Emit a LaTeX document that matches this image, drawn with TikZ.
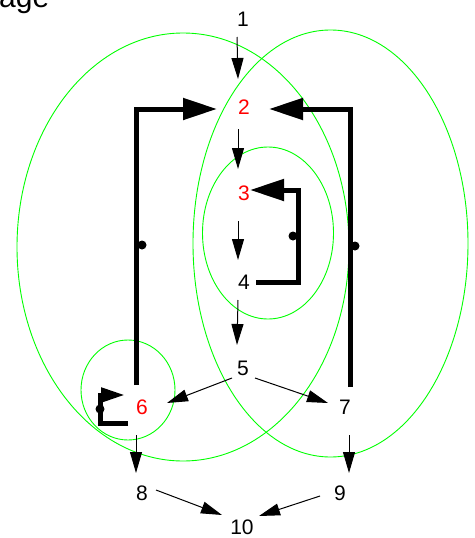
\documentclass[tikz,border=0pt]{standalone}
\usepackage{fontspec}
\setmainfont{Liberation Sans}
\usetikzlibrary{arrows.meta}
\begin{document}
\begin{tikzpicture}[x=1pt,y=-1pt,
  lbl/.style={inner sep=0pt, font=\fontsize{21}{21}\selectfont},
  redlbl/.style={lbl, text=red},
  cluster/.style={draw=green, line width=0.9pt},
  thinedge/.style={draw=black, line width=1pt, -{Triangle[length=21pt,width=12pt]}},
  backedge/.style={draw=black, line width=5pt, line join=miter, -{Triangle[length=34pt,width=21pt]}},
  loopedge/.style={draw=black, line width=5pt, line join=miter, -{Triangle[length=24pt,width=14pt]}},
  dotmark/.style={fill=black},
]
\useasboundingbox (0,0) rectangle (474,538);
% clusters
\draw[cluster] (183,247) ellipse [x radius=166pt, y radius=214pt];
\draw[cluster] (330.5,243.5) ellipse [x radius=137.5pt, y radius=213.5pt];
\draw[cluster] (268,233) ellipse [x radius=65.5pt, y radius=86pt];
\draw[cluster] (128,390) ellipse [x radius=47pt, y radius=50pt];
% title fragment
\node[anchor=base west, inner sep=0pt, font=\fontsize{30}{30}\selectfont] (title) at (-1,7) {age};
% nodes
\node[lbl] (n1) at (243,19) {1};
\node[redlbl] (n2) at (244,107) {2};
\node[redlbl] (n3) at (244,193) {3};
\node[lbl] (n4) at (244,282) {4};
\node[lbl] (n5) at (243,368) {5};
\node[redlbl] (n6) at (142,407) {6};
\node[lbl] (n7) at (345,407) {7};
\node[lbl] (n8) at (142,493) {8};
\node[lbl] (n9) at (340,493) {9};
\node[lbl] (n10) at (242,527) {10};
% thin edges
\draw[thinedge] ([shift={(-6,18)}]n1.center) -- ([shift={(-6,-28)}]n2.center);
\draw[thinedge] ([shift={(-6,22)}]n2.center) -- ([shift={(-6,-24)}]n3.center);
\draw[thinedge] ([shift={(-6,28)}]n3.center) -- ([shift={(-6,-22)}]n4.center);
\draw[thinedge] ([shift={(-6,18)}]n4.center) -- ([shift={(-6,-23)}]n5.center);
\draw[thinedge] ([shift={(-11,10)}]n5.center) -- ([shift={(25,-4)}]n6.center);
\draw[thinedge] ([shift={(12,10)}]n5.center) -- ([shift={(-17,-4)}]n7.center);
\draw[thinedge] ([shift={(-6,28)}]n6.center) -- ([shift={(-6,-20)}]n8.center);
\draw[thinedge] ([shift={(4,28)}]n7.center) -- ([shift={(9,-20)}]n9.center);
\draw[thinedge] ([shift={(14,-3)}]n8.center) -- ([shift={(-20,-12)}]n10.center);
\draw[thinedge] ([shift={(-20,3)}]n9.center) -- ([shift={(17,-11)}]n10.center);
% back edges
\draw[backedge] ([shift={(-6,-22)}]n6.center) |- ([shift={(-27,2)}]n2.center);
\draw[backedge] ([shift={(5,-20)}]n7.center) |- ([shift={(25,2)}]n2.center);
\draw[backedge] ([shift={(12,0)}]n4.center) -| ([shift={(54,-3)}]n3.center) -- ([shift={(6,-3)}]n3.center);
\draw[loopedge] ([shift={(-14,16)}]n6.center) -| ([shift={(-42,-12)}]n6.center) -- ([shift={(-17,-12)}]n6.center);
% dots
\fill[dotmark] (142,245) circle [radius=4.5pt];
\fill[dotmark] (355,246) circle [radius=4.5pt];
\fill[dotmark] (293,236) circle [radius=4.5pt];
\fill[dotmark] (100,409) circle [radius=4.5pt];
\end{tikzpicture}
\end{document}
